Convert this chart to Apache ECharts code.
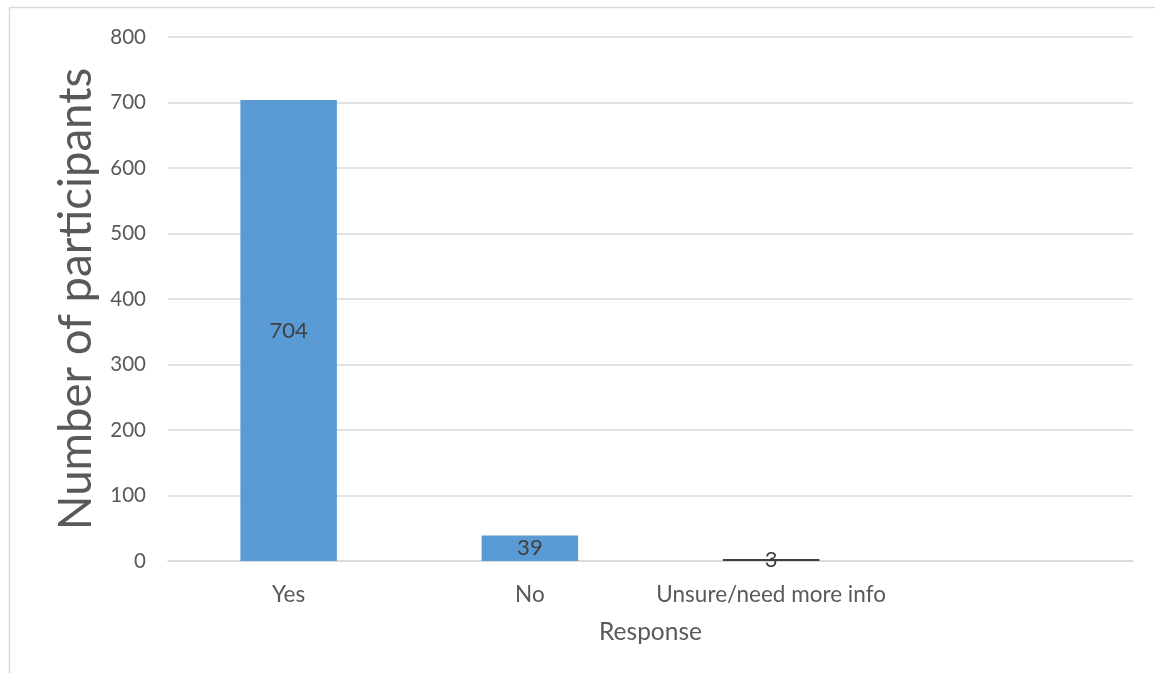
<!DOCTYPE html>
<html>
<head>
<meta charset="utf-8">
<script src="https://cdn.jsdelivr.net/npm/echarts@6/dist/echarts.min.js"></script>
<style>
  html, body { margin: 0; padding: 0; background: #fff; }
  #chart { width: 1155px; height: 673px; }
</style>
</head>
<body>
<div id="chart"></div>
<script>
// Survey responses
const categories = ['Yes', 'No', 'Unsure/need more info', ''];
const participants = [704, 39, 3, null];
const yTicks = { min: 0, max: 800, interval: 100 };

const FONT = 'Lato, "Open Sans", sans-serif';
const chart = echarts.init(document.getElementById('chart'));

chart.setOption({
  animation: false,
  backgroundColor: '#ffffff',
  graphic: [{
    type: 'rect',
    shape: { x: 9.5, y: 7.5, width: 1200, height: 700 },
    style: { fill: 'none', stroke: '#d9d9d9', lineWidth: 1.5 },
    silent: true
  }],
  grid: { left: 168, right: 22, top: 37, bottom: 112 },
  xAxis: {
    type: 'category',
    data: categories,
    name: 'Response',
    nameLocation: 'middle',
    nameGap: 59,
    nameTextStyle: { fontFamily: FONT, fontSize: 24.5, color: '#595959' },
    axisLine: { lineStyle: { color: '#d9d9d9', width: 1.5 } },
    axisTick: { show: false },
    axisLabel: {
      interval: 0,
      hideOverlap: false,
      fontFamily: FONT,
      fontSize: 22.5,
      color: '#595959',
      margin: 22
    }
  },
  yAxis: {
    type: 'value',
    min: yTicks.min,
    max: yTicks.max,
    interval: yTicks.interval,
    name: 'Number of participants',
    nameLocation: 'middle',
    nameGap: 67,
    nameTextStyle: { fontFamily: FONT, fontSize: 45.5, color: '#595959' },
    axisLine: { show: false },
    axisTick: { show: false },
    axisLabel: { fontFamily: FONT, fontSize: 20.5, color: '#595959', margin: 22 },
    splitLine: { lineStyle: { color: '#d9d9d9', width: 1.5 } }
  },
  series: [{
    type: 'bar',
    barWidth: '40%',
    data: participants.map((v, i) => i === 2
      ? { value: v, itemStyle: { color: '#404040' } }
      : v),
    itemStyle: { color: '#5b9bd5' },
    label: {
      show: true,
      position: 'inside',
      fontFamily: FONT,
      fontSize: 22,
      color: '#404040'
    }
  }]
});
</script>
</body>
</html>
